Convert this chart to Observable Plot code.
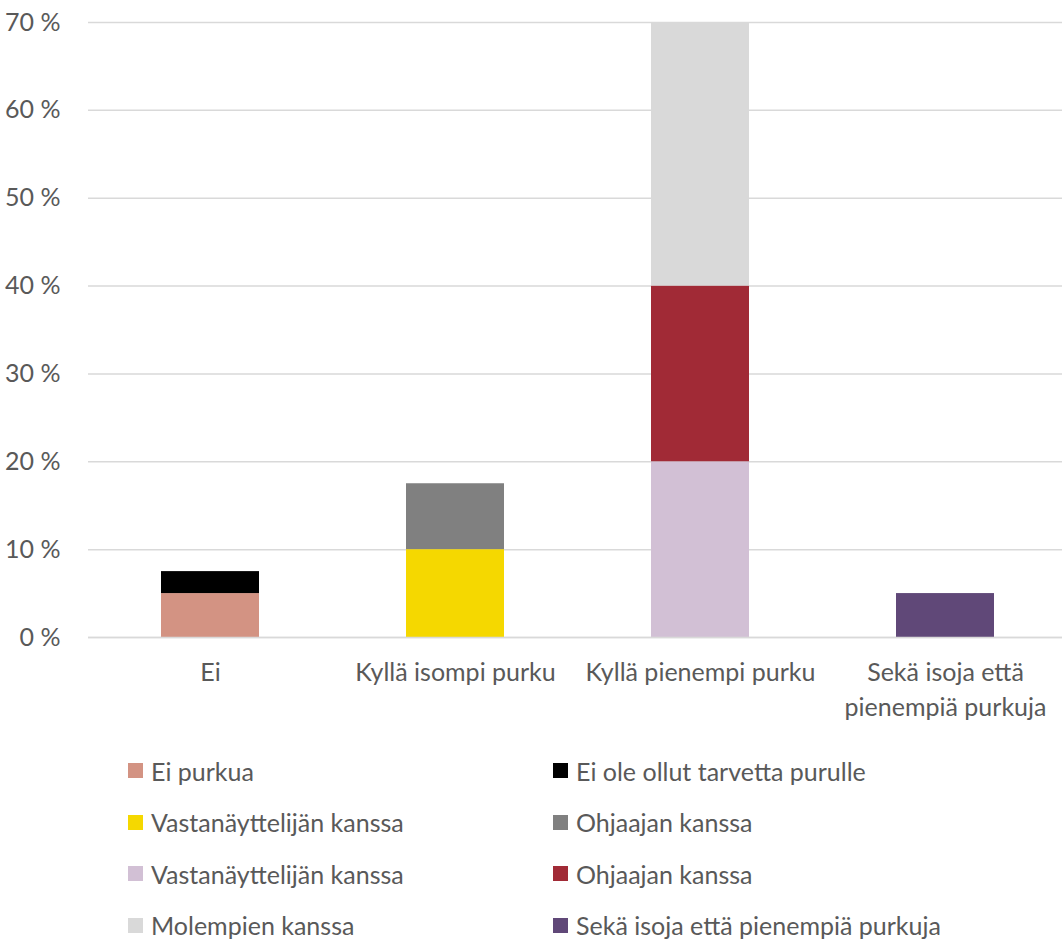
<!DOCTYPE html>
<html>
<head>
<meta charset="utf-8">
<script src="https://cdn.jsdelivr.net/npm/d3@7"></script>
<script src="https://cdn.jsdelivr.net/npm/@observablehq/plot@0.6"></script>
<style>
  body { margin: 0; background: #fff; font-family: Lato, "Open Sans", sans-serif; }
  #chart { position: relative; width: 1062px; }
  .legend { display: grid; grid-template-columns: 425px 425px; padding-left: 128px; margin-top: 5px; }
  .item { height: 51.5px; display: flex; align-items: center; font-size: 25px; color: #595959; white-space: nowrap; }
  .sw { width: 15px; height: 15px; margin-right: 8px; flex: none; }
</style>
</head>
<body>
<div id="chart"></div>
<script>
const categories = ["Ei", "Kyllä isompi purku", "Kyllä pienempi purku", "Sekä isoja että\npienempiä purkuja"];
const seriesLabels = ["Ei purkua", "Ei ole ollut tarvetta purulle", "Vastanäyttelijän kanssa", "Ohjaajan kanssa", "Vastanäyttelijän kanssa", "Ohjaajan kanssa", "Molempien kanssa", "Sekä isoja että pienempiä purkuja"];
const seriesCategory = [0, 0, 1, 1, 2, 2, 2, 3];
const seriesValues = [5, 2.5, 10, 7.5, 20, 20, 30, 5];
const seriesColors = ["#D39383", "#000000", "#F5D800", "#808080", "#D2C0D5", "#A12A36", "#D9D9D9", "#604878"];
const yTicks = [0, 10, 20, 30, 40, 50, 60, 70];

const keys = seriesLabels.map((l, i) => "s" + i);
const data = seriesLabels.map((l, i) => ({cat: categories[seriesCategory[i]], key: keys[i], value: seriesValues[i]}));

const chart = Plot.plot({
  width: 1062,
  height: 740,
  marginTop: 22,
  marginBottom: 103,
  marginLeft: 88,
  marginRight: 0,
  style: {fontFamily: "Lato, 'Open Sans', sans-serif", fontSize: "25px", color: "#595959", background: "#fff", overflow: "visible"},
  x: {domain: categories, range: [88, 1068], paddingInner: 0.598, paddingOuter: 0.298, label: null},
  y: {domain: [0, 70], label: null},
  color: {domain: keys, range: seriesColors},
  marks: [
    Plot.gridY(yTicks, {stroke: "#d9d9d9", strokeOpacity: 1, strokeWidth: 1.5}),
    Plot.barY(data, {x: "cat", y: "value", fill: "key", order: null}),
    Plot.ruleY([0], {stroke: "#d9d9d9", strokeWidth: 1.5}),
    Plot.axisY(yTicks, {tickSize: 0, tickPadding: 28, tickFormat: d => d + " %", fill: "#595959", fontSize: 25, label: null}),
    Plot.axisX({tickSize: 0, tickPadding: 19, fill: "#595959", fontSize: 25, lineHeight: 1.4, label: null})
  ]
});
document.getElementById("chart").appendChild(chart);

const legend = document.createElement("div");
legend.className = "legend";
seriesLabels.forEach((l, i) => {
  const it = document.createElement("div");
  it.className = "item";
  const sw = document.createElement("span");
  sw.className = "sw";
  sw.style.background = seriesColors[i];
  it.appendChild(sw);
  it.appendChild(document.createTextNode(l));
  legend.appendChild(it);
});
document.getElementById("chart").appendChild(legend);
</script>
</body>
</html>
